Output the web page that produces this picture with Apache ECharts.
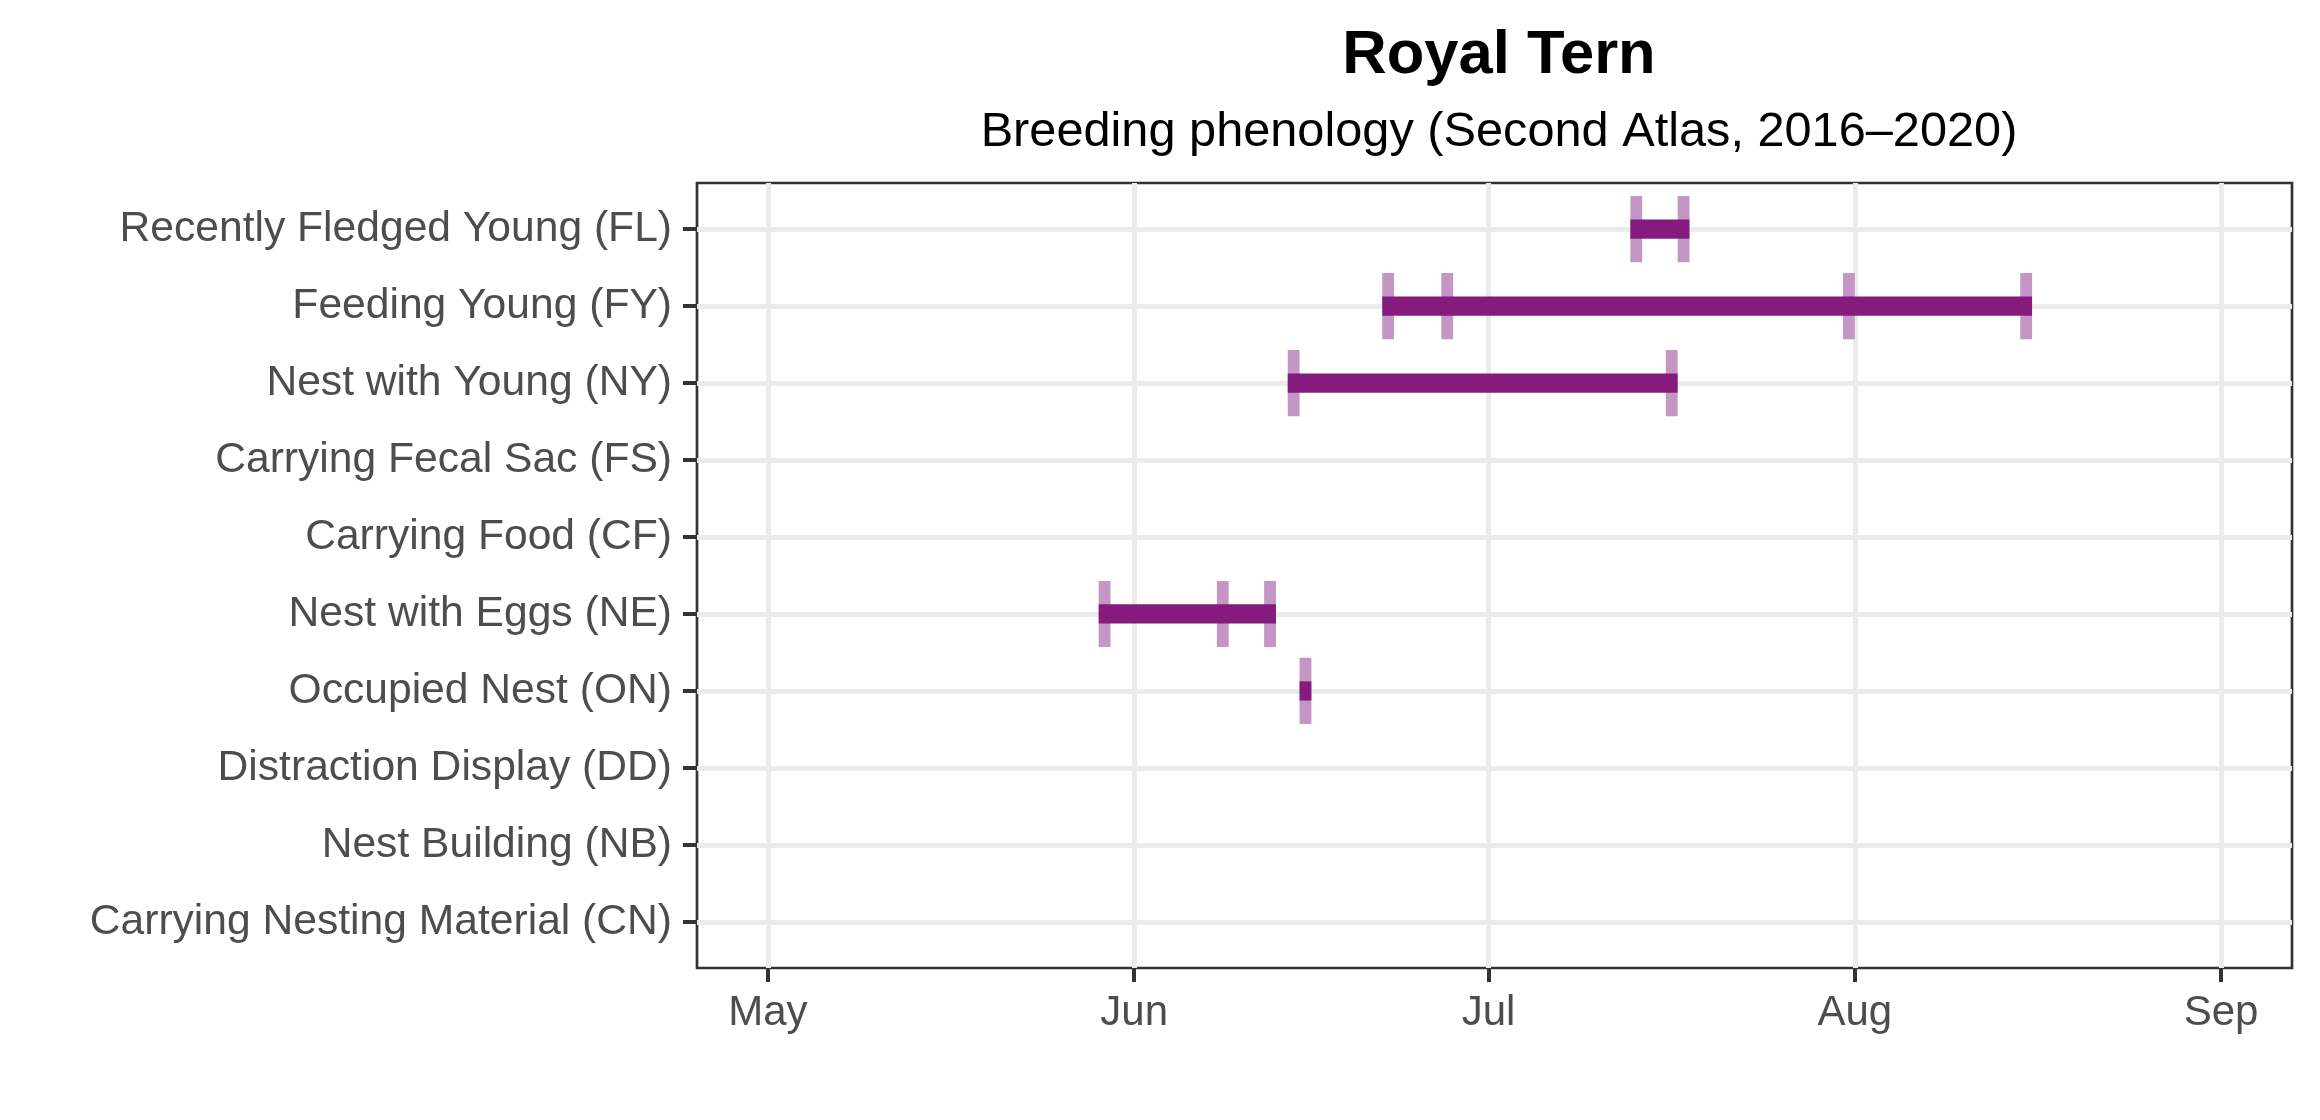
<!DOCTYPE html>
<html><head><meta charset="utf-8">
<script src="https://cdn.jsdelivr.net/npm/echarts@6/dist/echarts.min.js"></script>
<style>html,body{margin:0;padding:0;background:#fff}#c{width:2320px;height:1120px}</style>
</head><body><div id="c"></div>
<script>
const titleText = 'Royal Tern';
const subtitleText = 'Breeding phenology (Second Atlas, 2016–2020)';
// bottom-to-top order on the y axis
const categories = [
  'Carrying Nesting Material (CN)',
  'Nest Building (NB)',
  'Distraction Display (DD)',
  'Occupied Nest (ON)',
  'Nest with Eggs (NE)',
  'Carrying Food (CF)',
  'Carrying Fecal Sac (FS)',
  'Nest with Young (NY)',
  'Feeding Young (FY)',
  'Recently Fledged Young (FL)'
];
// observation dates (year is a placeholder; only month/day are shown)
const obsFL = ['2020-07-13', '2020-07-17'];
const obsFY = ['2020-06-22', '2020-06-27', '2020-07-31', '2020-08-15'];
const obsNY = ['2020-06-14', '2020-07-16'];
const obsNE = ['2020-05-29', '2020-06-08', '2020-06-12'];
const obsON = ['2020-06-15'];
const monthLabels = ['May', 'Jun', 'Jul', 'Aug', 'Sep'];
const monthStarts = ['2020-05-01', '2020-06-01', '2020-07-01', '2020-08-01', '2020-09-01'];
const xStart = '2020-04-25';
const xEnd = '2020-09-07';

const ref = Date.UTC(2020, 4, 1);
const dayOf = s => Math.round((new Date(s + 'T00:00:00Z').getTime() - ref) / 86400000);

const groups = [
  ['Recently Fledged Young (FL)', obsFL],
  ['Feeding Young (FY)', obsFY],
  ['Nest with Young (NY)', obsNY],
  ['Nest with Eggs (NE)', obsNE],
  ['Occupied Nest (ON)', obsON]
];
const tickData = [];
const barData = [];
groups.forEach(([name, dates]) => {
  const row = categories.indexOf(name);
  const days = dates.map(dayOf);
  days.forEach(d => tickData.push([d, row]));
  barData.push([Math.min(...days), Math.max(...days) + 1, row]);
});
const monthDays = monthStarts.map(dayOf);
const rowIdx = categories.map((_, i) => i);

const FONT = 'Liberation Sans';
const chart = echarts.init(document.getElementById('c'), null, {renderer: 'canvas'});
chart.setOption({
  animation: false,
  backgroundColor: '#ffffff',
  title: [
    {text: titleText, left: 1494, top: 20, textAlign: 'center',
     textStyle: {fontFamily: FONT, fontSize: 61.5, fontWeight: 'bold', color: '#000'}},
    {text: subtitleText, left: 1494, top: 103, textAlign: 'center',
     textStyle: {fontFamily: FONT, fontSize: 48.7, fontWeight: 'normal', color: '#000'}}
  ],
  grid: {left: 697, right: 28, top: 183, bottom: 152, show: true,
         borderColor: '#333333', borderWidth: 2.7, backgroundColor: 'transparent'},
  xAxis: {
    type: 'value', min: dayOf(xStart), max: dayOf(xEnd),
    axisLine: {show: false, onZero: false},
    axisTick: {show: true, length: 14, lineStyle: {color: '#333333', width: 4}, customValues: monthDays},
    axisLabel: {customValues: monthDays, margin: 24, color: '#4D4D4D', fontFamily: FONT, fontSize: 42,
                formatter: v => monthLabels[monthDays.indexOf(Math.round(v))] || ''},
    splitLine: {show: true, lineStyle: {color: '#EBEBEB', width: 5}}
  },
  yAxis: {
    type: 'value', min: -0.6, max: 9.6,
    axisLine: {show: false, onZero: false},
    axisTick: {show: true, length: 14, lineStyle: {color: '#333333', width: 4}, customValues: rowIdx},
    axisLabel: {customValues: rowIdx, margin: 25, color: '#4D4D4D', fontFamily: FONT, fontSize: 42.6,
                formatter: v => categories[Math.round(v)] || ''},
    splitLine: {show: true, lineStyle: {color: '#EBEBEB', width: 5}}
  },
  series: [
    {
      type: 'custom', name: 'observations', z: 2, data: tickData,
      encode: {x: 0, y: 1},
      renderItem(params, api) {
        const d = api.value(0), row = api.value(1);
        const p0 = api.coord([d, row]);
        const p1 = api.coord([d + 1, row]);
        const h = api.size([0, 0.86])[1];
        return {type: 'rect', shape: {x: p0[0], y: p0[1] - h / 2, width: p1[0] - p0[0], height: h},
                style: {fill: '#C396C3'}};
      }
    },
    {
      type: 'custom', name: 'range', z: 3, data: barData,
      encode: {x: [0, 1], y: 2},
      renderItem(params, api) {
        const s = api.value(0), e = api.value(1), row = api.value(2);
        const p0 = api.coord([s, row]);
        const p1 = api.coord([e, row]);
        const h = api.size([0, 0.25])[1];
        return {type: 'rect', shape: {x: p0[0], y: p0[1] - h / 2, width: p1[0] - p0[0], height: h},
                style: {fill: '#841B7D'}};
      }
    }
  ]
});
</script></body></html>
